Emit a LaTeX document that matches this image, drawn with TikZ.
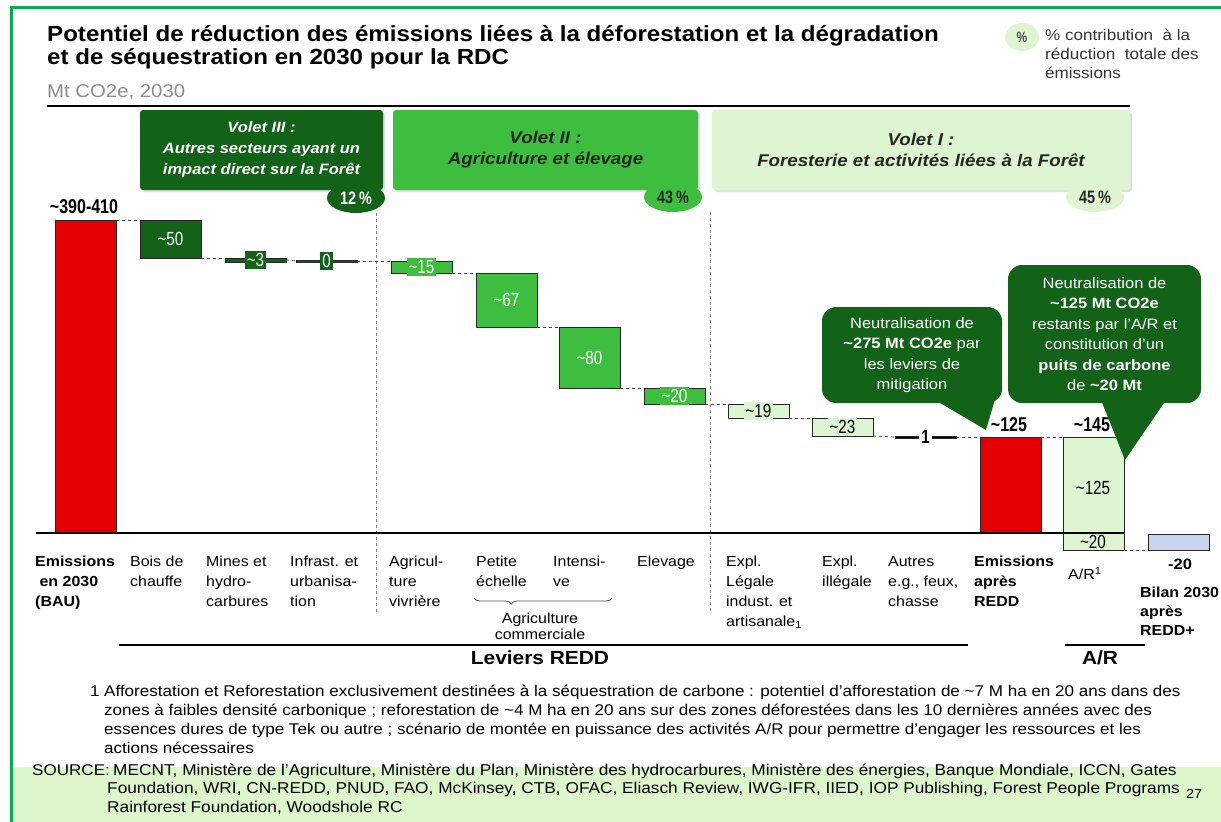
\documentclass[tikz,border=0pt]{standalone}
\usepackage{fontspec}
\setmainfont{Liberation Sans}[FakeStretch=1.1]
\newfontfamily\narrowfont{Liberation Sans}[FakeStretch=0.8]
\usetikzlibrary{positioning,shapes.geometric,decorations.pathreplacing,shadows}

\definecolor{frameGreen}{RGB}{0,176,80}
\definecolor{bandGreen}{RGB}{222,246,204}
\definecolor{dkGreen}{RGB}{18,99,24}
\definecolor{mdGreen}{RGB}{62,190,62}
\definecolor{ltGreen}{RGB}{221,245,208}
\definecolor{redBar}{RGB}{228,0,0}
\definecolor{blueBar}{RGB}{200,212,240}
\definecolor{subGray}{RGB}{140,140,140}

\newcommand{\appr}{\textasciitilde}

\begin{document}
\begin{tikzpicture}
[x=1pt,y=-1pt,
  barDecorate/.style={draw=black!85,line width=0.8pt,inner sep=0pt,outer sep=0pt,
    minimum width=61,anchor=north west},
  connDecorate/.style={-,dashed,draw=black!75,line width=0.8pt},
  voletDecorate/.style={rounded corners=3pt,inner sep=0pt,minimum height=80,
    align=center,font=\fontsize{15}{21}\selectfont\bfseries\itshape,
    drop shadow={opacity=0.25,shadow xshift=2pt,shadow yshift=-2pt}},
  pctDecorate/.style={ellipse,inner sep=0pt,minimum width=58,minimum height=30,
    font=\narrowfont\fontsize{18}{18}\selectfont\bfseries},
  catDecorate/.style={anchor=north west,inner sep=0pt,align=left,
    font=\fontsize{14.5}{20}\selectfont},
  valDecorate/.style={inner sep=2pt,font=\narrowfont\fontsize{19}{19}\selectfont},
  topvalDecorate/.style={anchor=base,inner sep=0pt,font=\narrowfont\fontsize{20}{20}\selectfont\bfseries},
  calloutDecorate/.style={rounded corners=14pt,fill=dkGreen,
    text=white,align=center,inner sep=0pt,font=\fontsize{15}{20.5}\selectfont},
  noteDecorate/.style={anchor=base west,inner sep=0pt,align=left,
    font=\fontsize{15.5}{19.3}\selectfont}]
\useasboundingbox (0,0) rectangle (1221,822);

%% frame and band
\fill[bandGreen] (12,767) rectangle (1221,822);
\draw[frameGreen,line width=3pt] (11.5,822) -- (11.5,7.5) -- (1221,7.5);

%% title
\node[anchor=base west,inner sep=0pt,font=\fontsize{21.9}{22}\selectfont\bfseries]
  (title1) at (47,41) {Potentiel de réduction des émissions liées à la déforestation et la dégradation};
\node[anchor=base west,inner sep=0pt,font=\fontsize{21.9}{22}\selectfont\bfseries]
  (title2) at (47,64) {et de séquestration en 2030 pour la RDC};
\node[anchor=base west,inner sep=0pt,text=subGray,font=\fontsize{18.5}{18}\selectfont]
  (unit) at (47,97) {Mt CO2e, 2030};
\draw[line width=1.2pt] (47,106) -- (1130,106);

%% legend
\node[ellipse,inner sep=0pt,fill=ltGreen,minimum width=34,minimum height=28,text=black!70,
  font=\narrowfont\fontsize{15}{15}\selectfont\bfseries] (legPct) at (1022,37) {\%};
\node[anchor=base west,inner sep=0pt,align=left,text=black!80,
  font=\fontsize{15.5}{19}\selectfont] (legText) at (1045,78)
  {\% contribution~ à la\\réduction~ totale des\\émissions};

%% volets
\node[voletDecorate,fill=dkGreen,text=white,minimum width=243] (volet3) at (261.5,150)
  {Volet III :\\Autres secteurs ayant un\\impact direct sur la Forêt};
\node[voletDecorate,fill=mdGreen,text=black!85,minimum width=305,
  font=\fontsize{17}{21}\selectfont\bfseries\itshape] (volet2) at (545.5,150)
  {Volet II :\\Agriculture et élevage};
\node[voletDecorate,fill=ltGreen,text=black!85,minimum width=418,
  font=\fontsize{17}{21}\selectfont\bfseries\itshape] (volet1) at (921,150)
  {Volet I :\\Foresterie et activités liées à la Forêt};
\node[pctDecorate,fill=dkGreen,text=white] (pct3) at (356,198) {12\,\%};
\node[pctDecorate,fill=mdGreen,text=black!85] (pct2) at (673,197) {43\,\%};
\node[pctDecorate,fill=ltGreen,text=black!85] (pct1) at (1095,197) {45\,\%};

%% separators
\coordinate (sepA) at (376,612);
\coordinate (sepB) at (710,612);
\draw[dashed,black!50,line width=0.8pt] (pct3.south -| sepA) -- (sepA);
\draw[dashed,black!50,line width=0.8pt] (pct2.south -| sepB) -- (sepB);

%% bars
\foreach \name/\x/\t/\b/\col in {
  bau/55/220/533/redBar, bois/140/220/258/dkGreen, mines/225/258/262/dkGreen,
  infra/296/260/262/dkGreen, vivr/391/261/273/mdGreen, petite/476/273/327/mdGreen,
  intens/559/327/388/mdGreen, elev/644/388/404/mdGreen, legale/728/404/418/ltGreen,
  illeg/812/418/436/ltGreen, autres/895/436/438/black, apres/980/437/533/redBar,
  ar/1063/437/550/ltGreen, bilan/1148/534/550/blueBar}
{
  \node[barDecorate,fill=\col,minimum height={\b-\t}] (\name) at (\x,\t) {};
}
%% connectors
\path
\foreach \startnode/\endnode in {
  bau.north east/bois.north west, bois.south east/mines.north west,
  mines.east/infra.west, infra.east/vivr.north west,
  vivr.south east/petite.north west, petite.south east/intens.north west,
  intens.south east/elev.north west, elev.south east/legale.north west,
  legale.south east/illeg.north west, illeg.south east/autres.west,
  autres.east/apres.north west, apres.north east/ar.north west,
  ar.south east/bilan.south west}
{
  (\startnode) edge[connDecorate] (\endnode)
};
%% axis
\coordinate (axisL) at (36,533);
\draw[line width=2pt] (axisL) -- (axisL -| ar.east);

%% values
\node[topvalDecorate] (vbau) at (84,213) {\appr390-410};
\node[valDecorate,text=white] (vbois) at (bois) {\appr50};
\node[valDecorate,fill=dkGreen,text=white] (vmines) at (mines) {\appr3};
\node[valDecorate,fill=dkGreen,text=white] (vinfra) at (infra) {0};
\node[valDecorate,fill=mdGreen,text=white] (vvivr) at (vivr) {\appr15};
\node[valDecorate,text=white] (vpetite) at (petite) {\appr67};
\node[valDecorate,text=white] (vintens) at (intens) {\appr80};
\node[valDecorate,fill=mdGreen,text=white] (velev) at (elev) {\appr20};
\node[valDecorate,fill=ltGreen] (vlegale) at (legale) {\appr19};
\node[valDecorate,fill=ltGreen] (villeg) at (illeg) {\appr23};
\node[valDecorate,fill=white,font=\narrowfont\fontsize{19}{19}\selectfont\bfseries] (vautres) at (autres) {1};
\node[topvalDecorate] (vapres) at (1009,431) {\appr125};
\node[topvalDecorate] (var) at (1092,431) {\appr145};
\node[valDecorate] (varin) at (1093,488) {\appr125};
\node[valDecorate,fill=ltGreen,inner sep=1pt] (varsub) at (1093,542) {\appr20};

%% callouts
\node[calloutDecorate,minimum width=180,minimum height=96] (callA) at (912,355)
  {Neutralisation de\\\textbf{\appr275 Mt CO2e} par\\les leviers de\\mitigation};
\fill[dkGreen] (935,400) -- (986,430) -- (996,396) -- cycle;
\node[calloutDecorate,minimum width=193,minimum height=138] (callB) at (1104.5,334)
  {Neutralisation de\\\textbf{\appr125 Mt CO2e}\\restants par l'A/R et\\constitution d'un\\
   \textbf{puits de carbone}\\de \textbf{\appr20 Mt}};
\fill[dkGreen] (1101,400) -- (1125,460) -- (1166,400) -- cycle;

%% category labels
\foreach \name/\x/\txt in {
  cbau/35/{\textbf{Emissions}\\\textbf{\ en 2030}\\\textbf{(BAU)}},
  cbois/130/{Bois de\\chauffe}, cmines/206/{Mines et\\hydro-\\carbures},
  cinfra/290/{Infrast. et\\urbanisa-\\tion}, cvivr/389/{Agricul-\\ture\\vivrière},
  cpetite/476/{Petite\\échelle}, cintens/553/{Intensi-\\ve}, celev/637/{Elevage},
  clegale/726/{Expl.\\Légale\\indust. et\\artisanale\textsubscript{1}},
  cilleg/822/{Expl.\\illégale}, cautres/888/{Autres\\e.g., feux,\\chasse},
  capres/974/{\textbf{Emissions}\\\textbf{après}\\\textbf{REDD}}}
{
  \node[catDecorate] (\name) at (\x,556) {\txt};
}
\node[catDecorate] (car) at (1068,567) {A/R\textsuperscript{1}};
\node[anchor=base,inner sep=0pt,font=\fontsize{15}{15}\selectfont\bfseries] (cbilanv) at (1180,569) {-20};
\node[catDecorate,font=\fontsize{14.5}{19}\selectfont\bfseries] (cbilan) at (1140,587)
  {Bilan 2030\\après\\REDD+};
\draw[decorate,decoration={brace,mirror,amplitude=6pt,aspect=0.27},black!70,line width=0.8pt]
  (474,598) -- (612,598);
\node[anchor=north,inner sep=0pt,align=center,font=\fontsize{14.5}{16}\selectfont]
  (cagri) at (540,613) {Agriculture\\commerciale};

%% group lines
\draw[line width=1.2pt] (119,645) coordinate (levL) -- (968,645) coordinate (levR);
\node[anchor=base,inner sep=0pt,font=\fontsize{19}{19}\selectfont\bfseries] (levText)
  at (540,664) {Leviers REDD};
\draw[line width=1.2pt] (1065,645) coordinate (arL) -- (1145,645) coordinate (arR);
\node[anchor=base,inner sep=0pt,font=\fontsize{19}{19}\selectfont\bfseries] (arText)
  at (1100,664) {A/R};

%% footnotes (multi-line nodes sit on their last baseline)
\node[noteDecorate] (noteNum) at (90,696) {1};
\node[noteDecorate] (noteText) at (104,753.9)
  {Afforestation et Reforestation exclusivement destinées à la séquestration de carbone : potentiel d'afforestation de \appr7 M ha en 20 ans dans des\\%
   zones à faibles densité carbonique ; reforestation de \appr4 M ha en 20 ans sur des zones déforestées dans les 10 dernières années avec des\\%
   essences dures de type Tek ou autre ; scénario de montée en puissance des activités A/R pour permettre d'engager les ressources et les\\%
   actions nécessaires};
\node[noteDecorate] (srcHead) at (32,775) {SOURCE:};
\foreach \name/\x/\y/\txt in {
  srcA/113/775/{MECNT, Ministère de l'Agriculture, Ministère du Plan, Ministère des hydrocarbures, Ministère des énergies, Banque Mondiale, ICCN, Gates},
  srcB/107/793.7/{Foundation, WRI, CN-REDD, PNUD, FAO, McKinsey, CTB, OFAC, Eliasch Review, IWG-IFR, IIED, IOP Publishing, Forest People Programs},
  srcC/107/812.4/{Rainforest Foundation, Woodshole RC}}
{
  \node[noteDecorate,font=\fontsize{15.7}{18.7}\selectfont] (\name) at (\x,\y) {\txt};
}
\node[anchor=base west,inner sep=0pt,font=\fontsize{13}{13}\selectfont] (pageNum) at (1186,798) {27};
\end{tikzpicture}
\end{document}
